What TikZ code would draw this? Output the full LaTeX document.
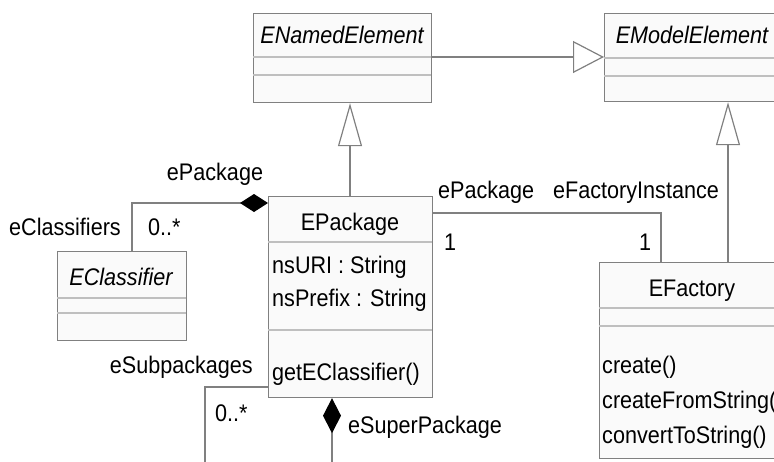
\documentclass[tikz,border=0pt]{standalone}
\usepackage{fontspec}
\setmainfont[FakeStretch=0.9]{Liberation Sans}
\usetikzlibrary{arrows.meta}

\begin{document}
\begin{tikzpicture}[
			x=1pt, y=-1pt,
			font=\fontsize{24}{28}\selectfont,
			every node/.style={inner sep=0pt},
			classbox/.style={draw=black!50, line width=1.2pt, fill=black!2, anchor=north west, minimum width=#1},
			part/.style={draw=black!25, line width=1.2pt},
			assoc/.style={draw=black!50, line width=1.2pt},
			genh/.style={assoc, -{Triangle[open, length=31pt, width=32pt]}},
			genv/.style={assoc, -{Triangle[open, length=43pt, width=24pt]}},
			compo/.style={assoc, {Diamond[length=#1, width=18pt, color=black]}-},
			txt/.style={anchor=base west},
			title/.style={anchor=base}
		]
		\useasboundingbox (0,0) rectangle (774,461);
		\clip (0,0) rectangle (774,461);

		% classes
		\node[classbox=178pt, minimum height=89pt] (named) at (253,13) {};
		\draw[part] (253,57) -- (431,57) (253,75) -- (431,75);
		\node[title] (namedT) at (342,43) {\itshape ENamedElement};

		\node[classbox=176pt, minimum height=88pt] (model) at (604,13) {};
		\draw[part] (604,58) -- (780,58) (604,76) -- (780,76);
		\node[title] (modelT) at (692,43) {\itshape EModelElement};

		\node[classbox=164pt, minimum height=201pt] (pkg) at (268,196) {};
		\draw[part] (268,242) -- (432,242) (268,330) -- (432,330);
		\node[title] (pkgT) at (350,230) {EPackage};
		\node[txt] (uri) at (272,273) {nsURI : String};
		\node[txt] (prefix) at (272,306) {nsPrefix : String};
		\node[txt] (getc) at (272,380) {getEClassifier()};

		\node[classbox=129pt, minimum height=89pt] (cls) at (57,251) {};
		\draw[part] (57,298) -- (186,298) (57,313) -- (186,313);
		\node[title] (clsT) at (121,285) {\itshape EClassifier};

		\node[classbox=186pt, minimum height=196pt] (fac) at (599,262) {};
		\draw[part] (599,308) -- (785,308) (599,326) -- (785,326);
		\node[title] (facT) at (692,296) {EFactory};
		\node[txt] (create) at (602,373) {create()};
		\node[txt] (cfs) at (602,408) {createFromString(};
		\node[txt] (cts) at (602,443) {convertToString()};

		% inheritance
		\draw[genh] (named.east |- 0,57) -- (model.west |- 0,57);
		\draw[genv] (pkg.north -| 350,0) -- (named.south -| 350,0);
		\draw[genv] (fac.north -| 728,0) -- (model.south -| 728,0);

		% associations
		\coordinate (c1) at (132,203);
		\draw[compo=28pt] (pkg.west |- 0,203) -- (c1) -- (cls.north -| c1);
		\coordinate (c2) at (661,213);
		\draw[assoc] (pkg.east |- 0,213) -- (c2) -- (fac.north -| c2);
		\coordinate (c3) at (205,387);
		\coordinate (c4) at (205,470);
		\draw[assoc] (pkg.west |- 0,387) -- (c3) -- (c4);
		\coordinate (c5) at (332,470);
		\draw[compo=35pt] (pkg.south -| c5) -- (c5);

		% role names
		\node[title] (r1) at (215,180) {ePackage};
		\node[anchor=base east] (r2) at (121,235) {eClassifiers};
		\node[txt] (m1) at (148,235) {0..*};
		\node[txt] (r3) at (438,198) {ePackage};
		\node[txt] (r4) at (553,198) {eFactoryInstance};
		\node[txt] (m2) at (444,250) {1};
		\node[txt] (m3) at (639,250) {1};
		\node[anchor=base east] (r5) at (253,373) {eSubpackages};
		\node[txt] (m4) at (215,421) {0..*};
		\node[txt] (r6) at (348,433) {eSuperPackage};
	\end{tikzpicture}
\end{document}
